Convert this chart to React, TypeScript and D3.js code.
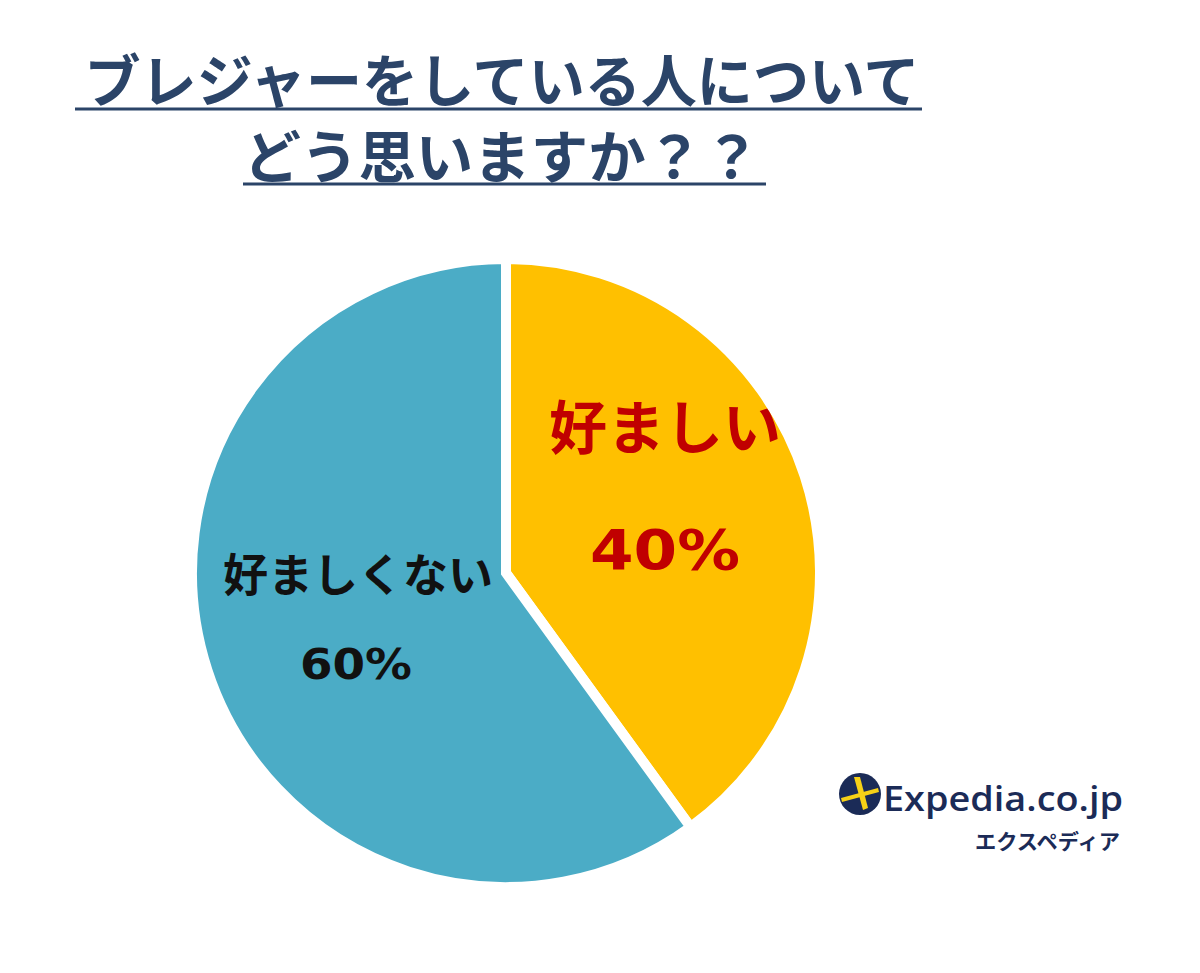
import React from "react";
import * as d3 from "d3";

const categories = ["好ましい", "好ましくない"];
const values = [40, 60];
const percentLabels = ["40%", "60%"];
const titleLines = ["ブレジャーをしている人について", "どう思いますか？？"];

const W = 1200;
const H = 973;
const cx = 506;
const cy = 573;
const R = 314;

export default function App() {
  const pie = d3.pie<number>().sort(null).startAngle(0).endAngle(2 * Math.PI)(values);
  const arc = d3.arc<d3.PieArcDatum<number>>().innerRadius(0).outerRadius(R);
  const colors = ["#FFC000", "#4BACC6"];
  const jp = "'Noto Sans CJK JP', 'Noto Sans', sans-serif";
  const num = "'DejaVu Sans', 'Noto Sans', sans-serif";
  const titleColor = "#2B4468";

  return (
    <svg width={W} height={H} style={{ position: "absolute", left: 0, top: 0, background: "#fff" }}>
      <rect width={W} height={H} fill="#fff" />
      {/* title */}
      <text x={502} y={102} textAnchor="middle" fontFamily={jp} fontSize={57} fontWeight={700} fill={titleColor} textLength={835} lengthAdjust="spacingAndGlyphs">{titleLines[0]}</text>
      <line x1={75} x2={922} y1={109} y2={109} stroke={titleColor} strokeWidth={3} />
      <text x={502} y={178} textAnchor="middle" fontFamily={jp} fontSize={57} fontWeight={700} fill={titleColor} textLength={517} lengthAdjust="spacingAndGlyphs">{titleLines[1]}</text>
      <line x1={243} x2={766} y1={184} y2={184} stroke={titleColor} strokeWidth={3} />

      {/* pie */}
      <g transform={`translate(${cx},${cy})`}>
        {pie.map((d, i) => (
          <path key={categories[i]} d={arc(d) || ""} fill={colors[i]} stroke="#fff" strokeWidth={10} strokeLinejoin="miter" />
        ))}
      </g>

      {/* labels */}
      <text x={665} y={449} textAnchor="middle" fontFamily={jp} fontSize={58} fontWeight={700} fill="#C00000">{categories[0]}</text>
      <text x={665} y={569} textAnchor="middle" fontFamily={num} fontSize={56} fontWeight={700} fill="#C00000" textLength={150} lengthAdjust="spacingAndGlyphs">{percentLabels[0]}</text>
      <text x={358} y={592} textAnchor="middle" fontFamily={jp} fontSize={45} fontWeight={700} fill="#111">{categories[1]}</text>
      <text x={356} y={679} textAnchor="middle" fontFamily={num} fontSize={42} fontWeight={700} fill="#111" textLength={112} lengthAdjust="spacingAndGlyphs">{percentLabels[1]}</text>

      {/* logo */}
      <g transform="translate(860,794)">
        <circle r={21} fill="#1B2B57" />
        <path d="M-19,4 L18,-6 L19,-2 L-18,8 Z" fill="#F7D117" />
        <path d="M-6,-17 L0,-17 L8,14 L3,16 Z" fill="#F7D117" />
      </g>
      <text x={883} y={811} fontFamily="'Open Sans', 'Noto Sans', sans-serif" fontSize={34} fontWeight={600} fill="#1B2B57" textLength={240} lengthAdjust="spacingAndGlyphs">Expedia.co.jp</text>
      <text x={1120} y={849} textAnchor="end" fontFamily={jp} fontSize={21} fontWeight={700} fill="#1B2B57" textLength={145} lengthAdjust="spacingAndGlyphs">エクスペディア</text>
    </svg>
  );
}
